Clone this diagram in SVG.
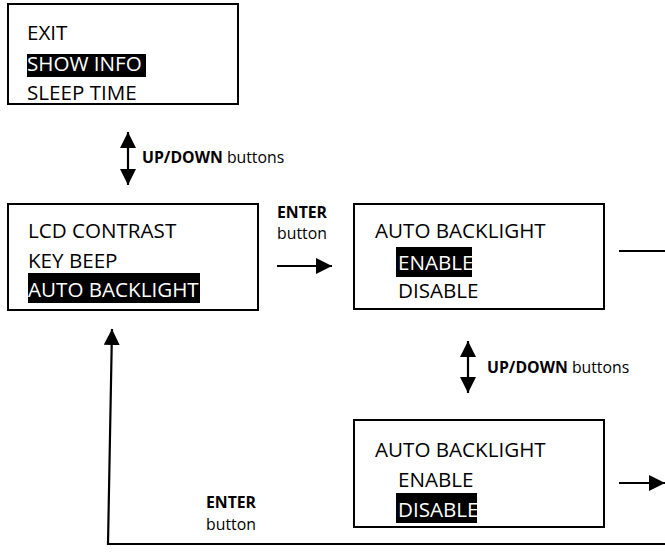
<svg xmlns="http://www.w3.org/2000/svg" width="665" height="556" viewBox="0 0 665 556">
<style>
.box{fill:#fff;stroke:#000;stroke-width:2}
.t{font-family:"Open Sans","Liberation Sans",sans-serif;font-size:20.6px;fill:#000}
.w{fill:#fff}
.hl{fill:#000}
.lb{font-family:"Open Sans","Liberation Sans",sans-serif;font-size:15.8px;fill:#000}
.b{font-weight:bold}
.ln{stroke:#000;stroke-width:2.2;fill:none}
</style>
<defs>
<marker id="ah" viewBox="0 0 10 10" refX="10" refY="5" markerWidth="16" markerHeight="16" markerUnits="userSpaceOnUse" orient="auto-start-reverse">
<path d="M0,0 L10,5 L0,10 z" fill="#000"/>
</marker>
</defs>
<g id="menu1">
<rect class="box" x="8" y="4" width="230" height="100"/>
<text class="t" x="27" y="40">EXIT</text>
<rect class="hl" x="27" y="54" width="119" height="23"/>
<text class="t w" x="27" y="71">SHOW INFO</text>
<text class="t" x="27" y="100">SLEEP TIME</text>
</g>
<g id="menu2">
<rect class="box" x="8" y="204" width="250" height="106"/>
<text class="t" x="28" y="238">LCD CONTRAST</text>
<text class="t" x="28" y="268">KEY BEEP</text>
<rect class="hl" x="28" y="273" width="172" height="30"/>
<text class="t w" x="28" y="297">AUTO BACKLIGHT</text>
</g>
<g id="enable">
<rect class="box" x="354" y="204" width="250" height="105"/>
<text class="t" x="375" y="238">AUTO BACKLIGHT</text>
<rect class="hl" x="396" y="247" width="76" height="30"/>
<text class="t w" x="398" y="270">ENABLE</text>
<text class="t" x="398" y="298">DISABLE</text>
</g>
<g id="disable">
<rect class="box" x="354" y="420" width="250" height="107"/>
<text class="t" x="375" y="457">AUTO BACKLIGHT</text>
<text class="t" x="398" y="487">ENABLE</text>
<rect class="hl" x="396" y="493" width="81" height="30"/>
<text class="t w" x="398" y="517">DISABLE</text>
</g>
<g id="connectors">
<line class="ln" x1="128" y1="132" x2="128" y2="185" marker-start="url(#ah)" marker-end="url(#ah)"/>
<line class="ln" x1="277" y1="266" x2="332" y2="266" marker-end="url(#ah)"/>
<line class="ln" x1="619" y1="251" x2="665" y2="251"/>
<line class="ln" x1="468" y1="341" x2="468" y2="393" marker-start="url(#ah)" marker-end="url(#ah)"/>
<line class="ln" x1="619" y1="483" x2="665" y2="483" marker-end="url(#ah)"/>
<polyline class="ln" points="665,544 108,544 112,329" marker-end="url(#ah)"/>
</g>
<g id="labels">
<text class="lb" x="142" y="163"><tspan class="b">UP/DOWN</tspan> buttons</text>
<text class="lb b" x="302" y="218" text-anchor="middle">ENTER</text>
<text class="lb" x="302" y="239" text-anchor="middle">button</text>
<text class="lb" x="487" y="373"><tspan class="b">UP/DOWN</tspan> buttons</text>
<text class="lb b" x="231" y="508" text-anchor="middle">ENTER</text>
<text class="lb" x="231" y="530" text-anchor="middle">button</text>
</g>
</svg>
